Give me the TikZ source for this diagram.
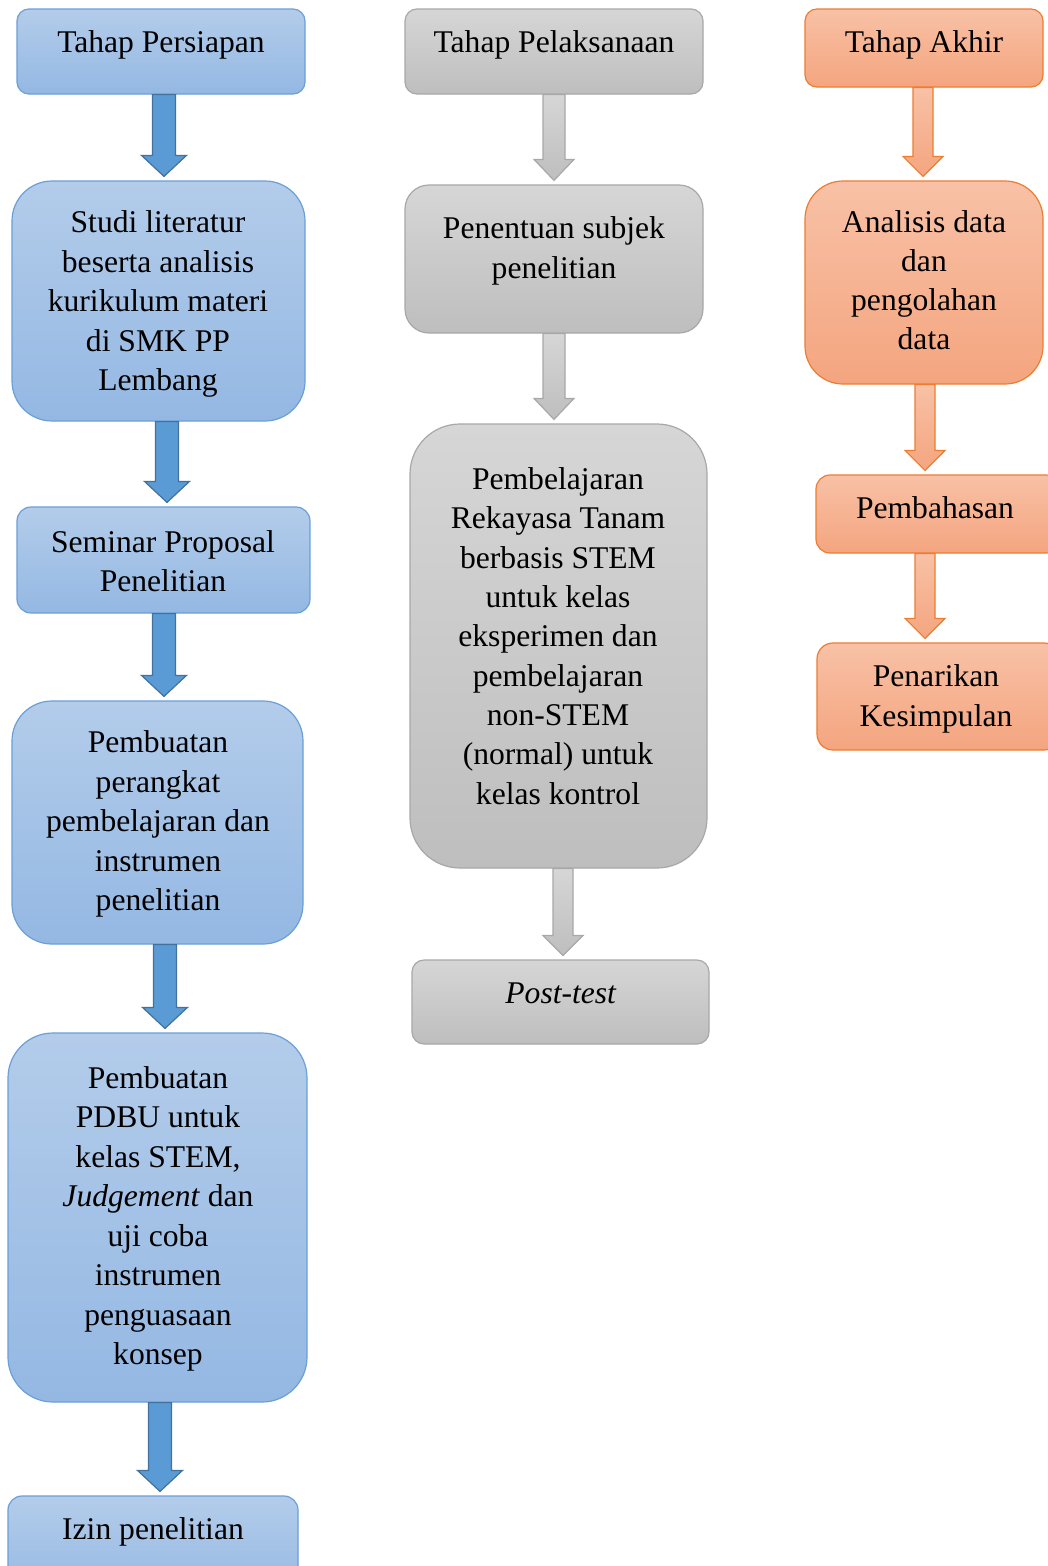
\documentclass[tikz,border=0pt]{standalone}
\usepackage{fontspec}
\setmainfont{Liberation Serif}
\usetikzlibrary{calc}
\definecolor{bTop}{HTML}{B3CCEA}
\definecolor{bBot}{HTML}{94B8E3}
\definecolor{bLine}{HTML}{6A9FD8}
\definecolor{bArr}{HTML}{5B9BD5}
\definecolor{bArrLine}{HTML}{41719C}
\definecolor{gTop}{HTML}{D6D6D6}
\definecolor{gBot}{HTML}{BEBEBE}
\definecolor{gLine}{HTML}{A8A8A8}
\definecolor{oTop}{HTML}{F8C1A6}
\definecolor{oBot}{HTML}{F4A57F}
\definecolor{oLine}{HTML}{ED7D31}
\tikzset{
  boxbase/.style={rounded corners=#1, line width=1.2pt, inner sep=0pt},
  bluebox/.style={boxbase=#1, draw=bLine, top color=bTop, bottom color=bBot},
  graybox/.style={boxbase=#1, draw=gLine, top color=gTop, bottom color=gBot},
  orangebox/.style={boxbase=#1, draw=oLine, top color=oTop, bottom color=oBot},
  txt/.style={inner sep=0pt, align=center, font=\fontsize{31.6}{39.5}\selectfont},
  bluearrow/.style={draw=bArrLine, fill=bArr, line width=1.2pt, line join=miter},
  grayarrow/.style={draw=gLine, top color=gTop, bottom color=gBot, line width=1.2pt},
  orangearrow/.style={draw=oLine, top color=oTop, bottom color=oBot, line width=1.2pt},
}
% #1 from node, #2 to node, #3 x (px), #4 half shaft, #5 half head, #6 head length, #7 style
\newcommand{\blkarrow}[7]{%
  \path[#7] let \p1=(#1.south), \p2=(#2.north) in
    (#3pt-#4pt,\y1) -- (#3pt+#4pt,\y1) -- (#3pt+#4pt,\y2+4pt+#6pt) -- (#3pt+#5pt,\y2+4pt+#6pt)
    -- (#3pt,\y2+4pt) -- (#3pt-#5pt,\y2+4pt+#6pt) -- (#3pt-#4pt,\y2+4pt+#6pt) -- cycle;}
% box: name, style, x1,y1,x2,y2
\newcommand{\mybox}[6]{%
  \node[#2, minimum width={(#5-#3)*1pt}, minimum height={(#6-#4)*1pt}] (#1) at ({(#3+#5)/2},{(#4+#6)/2}) {};}
\begin{document}
\begin{tikzpicture}[x=1pt,y=-1pt]
\useasboundingbox (0,0) rectangle (1048,1566);
\fill[white] (0,0) rectangle (1048,1566);
\clip (0,0) rectangle (1048,1566);
% left column
\mybox{b1}{bluebox=12pt}{17}{9}{305}{94}
\mybox{b2}{bluebox=40pt}{12}{181}{305}{421}
\mybox{b3}{bluebox=14pt}{17}{507}{310}{613}
\mybox{b4}{bluebox=40pt}{12}{701}{303}{944}
\mybox{b5}{bluebox=45pt}{8}{1033}{307}{1402}
\mybox{b6}{bluebox=14pt}{8}{1496}{298}{1600}
\node[txt] (tb1) at (161,45) {Tahap Persiapan};
\node[txt] (tb2) at (158,304) {Studi literatur\\beserta analisis\\kurikulum materi\\di SMK PP\\Lembang};
\node[txt] (tb3) at (163,561) {Seminar Proposal\\Penelitian};
\node[txt] (tb4) at (158,824) {Pembuatan\\perangkat\\pembelajaran dan\\instrumen\\penelitian};
\node[txt] (tb5) at (158,1219) {Pembuatan\\PDBU untuk\\kelas STEM,\\\textit{Judgement} dan\\uji coba\\instrumen\\penguasaan\\konsep};
\node[txt] (tb6) at (153,1532) {Izin penelitian};
\blkarrow{b1}{b2}{164}{11.5}{22.5}{21}{bluearrow}
\blkarrow{b2}{b3}{167}{11.5}{22.5}{21}{bluearrow}
\blkarrow{b3}{b4}{164}{11.5}{22.5}{21}{bluearrow}
\blkarrow{b4}{b5}{165}{11.5}{22.5}{21}{bluearrow}
\blkarrow{b5}{b6}{160}{11.5}{22.5}{21}{bluearrow}
% middle column
\mybox{g1}{graybox=12pt}{405}{9}{703}{94}
\mybox{g2}{graybox=24pt}{405}{185}{703}{333}
\mybox{g3}{graybox=50pt}{410}{424}{707}{868}
\mybox{g4}{graybox=12pt}{412}{960}{709}{1044}
\node[txt] (tg1) at (554,45) {Tahap Pelaksanaan};
\node[txt,font=\fontsize{31.6}{39.3}\selectfont] (tg3) at (558,636) {Pembelajaran\\Rekayasa Tanam\\berbasis STEM\\untuk kelas\\eksperimen dan\\pembelajaran\\non-STEM\\(normal) untuk\\kelas kontrol};
\node[txt] (tg2) at (554,251) {Penentuan subjek\\penelitian};
\node[txt] (tg4) at (561,993) {\textit{Post-test}};
\blkarrow{g1}{g2}{554}{11}{20}{21}{grayarrow}
\blkarrow{g2}{g3}{554}{11}{20}{21}{grayarrow}
\blkarrow{g3}{g4}{563}{10}{20}{20}{grayarrow}
% right column
\mybox{o1}{orangebox=12pt}{805}{9}{1043}{87}
\mybox{o2}{orangebox=38pt}{805}{181}{1043}{384}
\mybox{o3}{orangebox=14pt}{816}{475}{1060}{553}
\mybox{o4}{orangebox=16pt}{817}{643}{1060}{750}
\node[txt] (to1) at (924,45) {Tahap Akhir};
\node[txt,font=\fontsize{31.6}{39}\selectfont] (to2) at (924,280) {Analisis data\\dan\\pengolahan\\data};
\node[txt] (to3) at (935,508) {Pembahasan};
\node[txt] (to4) at (936,699) {Penarikan\\Kesimpulan};
\blkarrow{o1}{o2}{923}{10}{20}{20}{orangearrow}
\blkarrow{o2}{o3}{925}{10}{20}{20}{orangearrow}
\blkarrow{o3}{o4}{925}{10}{20}{20}{orangearrow}
\end{tikzpicture}
\end{document}
